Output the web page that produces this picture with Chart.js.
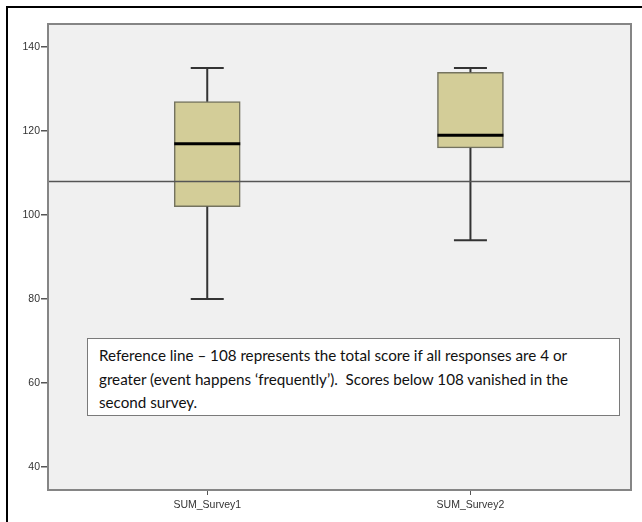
<!DOCTYPE html>
<html lang="en">
<head>
  <meta charset="UTF-8" />
  <title>SUM Survey boxplot</title>
  <script src="https://cdn.jsdelivr.net/npm/chart.js"></script>
  <style>
    html, body {
      margin: 0;
      padding: 0;
      background: #ffffff;
    }
    .wrap {
      position: relative;
      width: 642px;
      height: 522px;
      overflow: hidden;
    }
    .frame {
      position: absolute;
      left: 6px;
      top: 6px;
      width: 700px;
      height: 600px;
      border-top: 2px solid #000;
      border-left: 2px solid #000;
      pointer-events: none;
    }
    .note {
      position: absolute;
      left: 87px;
      top: 338px;
      width: 520px;
      height: 66px;
      padding: 5px 0 5px 11px;
      background: #fff;
      border: 1px solid #7a7a7a;
      font-family: Lato, 'Open Sans', sans-serif;
      font-size: 15.2px;
      line-height: 23.5px;
      color: #111;
      white-space: nowrap;
    }
  </style>
</head>
<body>
  <div class="wrap">
    <canvas id="grafica" width="642" height="522"></canvas>
    <div class="frame"></div>
    <div class="note">
      Reference line – 108 represents the total score if all responses are 4 or<br>
      greater (event happens ‘frequently’).&nbsp; Scores below 108 vanished in the<br>
      second survey.
    </div>
  </div>

  <script>
    // datos
    const categorias = ["SUM_Survey1", "SUM_Survey2"];
    const posiciones = [1, 2];
    const minimos = [80, 94];
    const q1 = [102, 116];
    const medianas = [117, 119];
    const q3 = [127, 134];
    const maximos = [135, 135];
    const lineaReferencia = 108;
    const ticksY = [40, 60, 80, 100, 120, 140];

    const fondoYBorde = {
      id: "fondoYBorde",
      beforeDraw(chart) {
        const { ctx, chartArea: a } = chart;
        ctx.save();
        ctx.fillStyle = "#f0f0f0";
        ctx.fillRect(a.left, a.top, a.right - a.left, a.bottom - a.top);
        ctx.restore();
      },
      afterDraw(chart) {
        const { ctx, chartArea: a } = chart;
        ctx.save();
        ctx.strokeStyle = "#858585";
        ctx.lineWidth = 2;
        ctx.strokeRect(a.left, a.top, a.right - a.left, a.bottom - a.top);
        ctx.restore();
      }
    };

    const bigotes = {
      id: "bigotes",
      afterDatasetsDraw(chart) {
        const { ctx, chartArea: a } = chart;
        const x = chart.scales.x, y = chart.scales.y;
        ctx.save();
        ctx.strokeStyle = "#333";
        ctx.lineWidth = 2;
        posiciones.forEach((p, i) => {
          const cx = x.getPixelForValue(p);
          const lines = [
            [cx, y.getPixelForValue(q3[i]), cx, y.getPixelForValue(maximos[i])],
            [cx, y.getPixelForValue(q1[i]), cx, y.getPixelForValue(minimos[i])],
            [cx - 16.5, y.getPixelForValue(maximos[i]), cx + 16.5, y.getPixelForValue(maximos[i])],
            [cx - 16.5, y.getPixelForValue(minimos[i]), cx + 16.5, y.getPixelForValue(minimos[i])]
          ];
          lines.forEach(l => {
            ctx.beginPath();
            ctx.moveTo(l[0], l[1]);
            ctx.lineTo(l[2], l[3]);
            ctx.stroke();
          });
        });

        // linea de referencia
        const ry = y.getPixelForValue(lineaReferencia);
        ctx.strokeStyle = "#555";
        ctx.lineWidth = 1.5;
        ctx.beginPath();
        ctx.moveTo(a.left, ry);
        ctx.lineTo(a.right, ry);
        ctx.stroke();

        // medianas
        ctx.strokeStyle = "#000";
        ctx.lineWidth = 3;
        posiciones.forEach((p, i) => {
          const cx = x.getPixelForValue(p);
          const my = y.getPixelForValue(medianas[i]);
          ctx.beginPath();
          ctx.moveTo(cx - 33, my);
          ctx.lineTo(cx + 33, my);
          ctx.stroke();
        });
        ctx.restore();
      }
    };

    new Chart(document.getElementById("grafica"), {
      type: "bar",
      data: {
        datasets: [{
          data: posiciones.map((p, i) => ({ x: p, y: [q1[i], q3[i]] })),
          backgroundColor: "#d3cd98",
          borderColor: "#74735f",
          borderWidth: 1.5,
          borderSkipped: false,
          barThickness: 66
        }]
      },
      options: {
        responsive: false,
        animation: false,
        events: [],
        layout: { padding: { top: 24, right: 11, left: 0, bottom: 0 } },
        plugins: {
          legend: { display: false },
          tooltip: { enabled: false }
        },
        scales: {
          x: {
            type: "linear",
            offset: false,
            min: 0.395,
            max: 2.61,
            afterBuildTicks: s => { s.ticks = posiciones.map(v => ({ value: v })); },
            afterFit: s => { s.height = 32; },
            ticks: {
              callback: v => categorias[posiciones.indexOf(v)] || "",
              color: "#333",
              font: { family: "'Liberation Sans', Arial, sans-serif", size: 10.5 },
              padding: 4,
              maxRotation: 0
            },
            grid: { offset: false, drawOnChartArea: false, tickLength: 5, color: "#555", lineWidth: 1 },
            border: { display: false }
          },
          y: {
            min: 34.5,
            max: 145.5,
            afterBuildTicks: s => { s.ticks = ticksY.map(v => ({ value: v })); },
            afterFit: s => { s.width = 48; },
            ticks: {
              color: "#333",
              font: { family: "'Liberation Sans', Arial, sans-serif", size: 10.5 },
              padding: 1
            },
            grid: { drawOnChartArea: false, tickLength: 7, color: "#555", lineWidth: 1.5 },
            border: { display: false }
          }
        }
      },
      plugins: [fondoYBorde, bigotes]
    });
  </script>
</body>
</html>
